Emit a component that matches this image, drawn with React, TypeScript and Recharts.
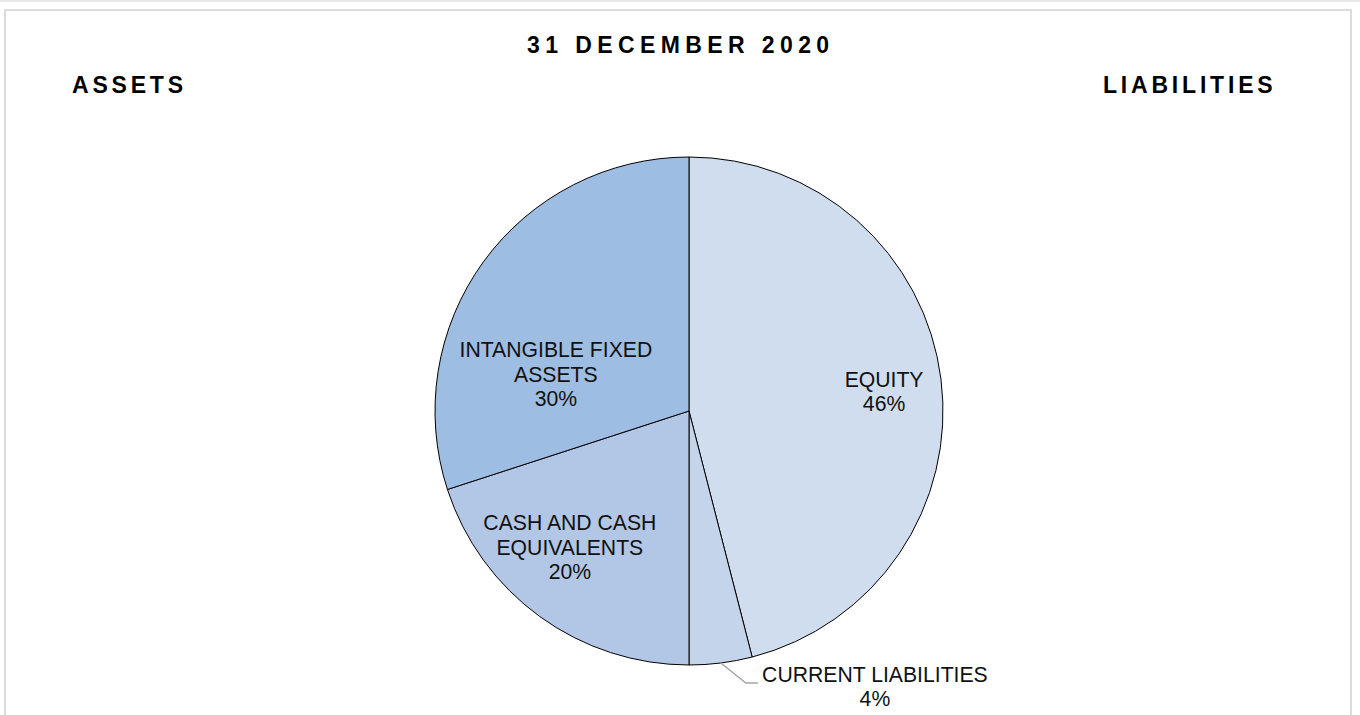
import React from 'react';
import { PieChart, Pie, Cell } from 'recharts';

// balance sheet split, 31 December 2020 (clockwise from 12 o'clock)
const names = ['EQUITY', 'CURRENT LIABILITIES', 'CASH AND CASH EQUIVALENTS', 'INTANGIBLE FIXED ASSETS'];
const values = [46, 4, 20, 30];
const labelLines = [['EQUITY'], ['CURRENT LIABILITIES'], ['CASH AND CASH', 'EQUIVALENTS'], ['INTANGIBLE FIXED', 'ASSETS']];
const colors = ['#D0DDEE', '#C4D4EA', '#B2C7E5', '#9EBDE2'];

// label block centre, as a fraction of the radius from the pie centre
const labelSpot = [
  { dx: 0.768, dy: -0.077 },
  { dx: 0.732, dy: 1.085 },
  { dx: -0.469, dy: 0.537 },
  { dx: -0.524, dy: -0.144 },
];

const data = names.map((name, i) => ({ name, value: values[i] }));

const RAD = Math.PI / 180;
const FONT = '"Liberation Sans", Arial, Helvetica, sans-serif';
const LINE_H = 24.5;

const renderLabel = (props: any) => {
  const { cx, cy, outerRadius, midAngle, percent, index } = props;
  const spot = labelSpot[index];
  const x = cx + spot.dx * outerRadius;
  const y = cy + spot.dy * outerRadius;
  const lines = [...labelLines[index], `${Math.round(percent * 100)}%`];
  const n = lines.length;

  let leader = null;
  if (index === 1) {
    // outside label gets a small elbow leader like excel does
    const sx = cx + outerRadius * Math.cos(-midAngle * RAD);
    const sy = cy + outerRadius * Math.sin(-midAngle * RAD);
    const ex = cx + 0.224 * outerRadius;
    const ey = cy + 1.071 * outerRadius;
    leader = (
      <polyline
        points={`${sx},${sy} ${ex},${ey} ${ex + 12},${ey}`}
        fill="none"
        stroke="#A6A6A6"
        strokeWidth={1.5}
      />
    );
  }

  return (
    <g>
      {leader}
      {lines.map((t, i) => (
        <text
          key={i}
          x={x}
          y={y + (i - (n - 1) / 2) * LINE_H + 7.5}
          textAnchor="middle"
          fontFamily={FONT}
          fontSize={21.2}
          fill="#111"
        >
          {t}
        </text>
      ))}
    </g>
  );
};

const App = () => {
  return (
    <div style={{ position: 'absolute', left: 0, top: 0, width: 1360, height: 715, background: '#fff', overflow: 'hidden' }}>
      {/* page frame bits */}
      <div style={{ position: 'absolute', left: 0, top: 0, width: 1360, height: 2, background: '#E8E8E8' }} />
      <div
        style={{
          position: 'absolute',
          left: 4,
          top: 9,
          width: 1348,
          height: 720,
          border: '2px solid #DCDCDC',
          boxSizing: 'border-box',
        }}
      />

      <svg width={1360} height={715} style={{ position: 'absolute', left: 0, top: 0 }}>
        <text x={527} y={53} fontFamily={FONT} fontWeight="bold" fontSize={23} letterSpacing={5.4} fill="#000">
          31 DECEMBER 2020
        </text>
        <text x={72} y={93} fontFamily={FONT} fontWeight="bold" fontSize={23} letterSpacing={3.8} fill="#000">
          ASSETS
        </text>
        <text x={1103} y={93} fontFamily={FONT} fontWeight="bold" fontSize={23} letterSpacing={3.8} fill="#000">
          LIABILITIES
        </text>
      </svg>

      <div style={{ position: 'absolute', left: 0, top: 0 }}>
        <PieChart width={1360} height={715} margin={{ top: 0, right: 0, bottom: 0, left: 0 }}>
          <Pie
            data={data}
            dataKey="value"
            nameKey="name"
            cx={689}
            cy={411}
            outerRadius={254}
            startAngle={90}
            endAngle={-270}
            stroke="#000"
            strokeWidth={1}
            label={renderLabel}
            labelLine={false}
            isAnimationActive={false}
          >
            {data.map((d, i) => (
              <Cell key={d.name} fill={colors[i]} />
            ))}
          </Pie>
        </PieChart>
      </div>
    </div>
  );
};

export default App;
